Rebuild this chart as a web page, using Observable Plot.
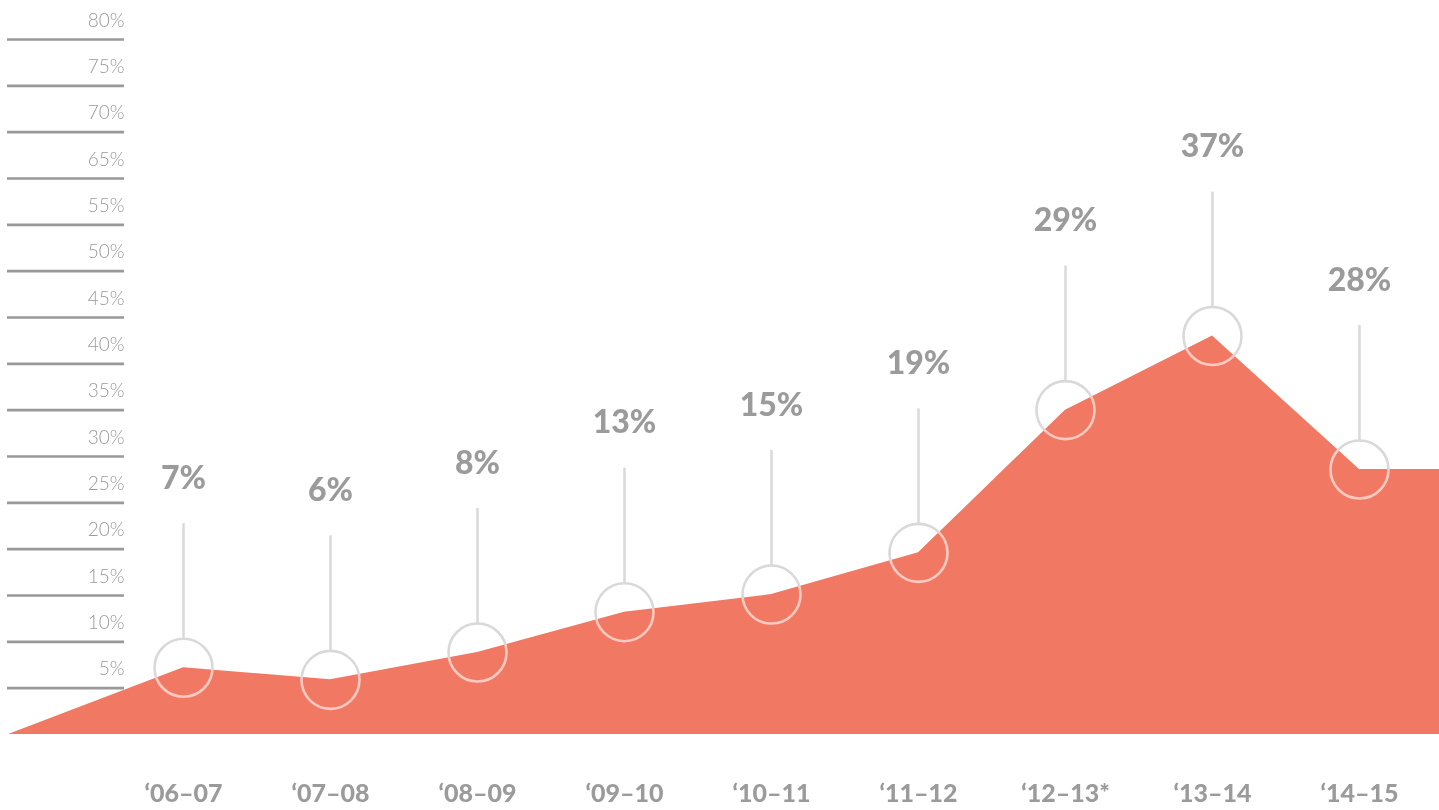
<!DOCTYPE html>
<html>
<head>
<meta charset="utf-8">
<script src="https://cdn.jsdelivr.net/npm/d3@7"></script>
<script src="https://cdn.jsdelivr.net/npm/@observablehq/plot@0.6"></script>
<style>
  html, body { margin: 0; padding: 0; background: #fff; }
  #chart svg { display: block; }
</style>
</head>
<body>
<div id="chart"></div>
<script>
// Categories (school years) and their bottom labels
const periods = ["‘06–07", "‘07–08", "‘08–09", "‘09–10", "‘10–11", "‘11–12", "‘12–13*", "‘13–14", "‘14–15"];
// Value labels shown above each point
const valueLabels = ["7%", "6%", "8%", "13%", "15%", "19%", "29%", "37%", "28%"];
// Area heights as drawn, read against the gridlines
const areaValues = [7.2, 5.9, 8.85, 13.2, 15.1, 19.6, 35.0, 43.0, 28.6];
// Area extends past the first/last category to the chart edges
const areaStartX = -1.19;
const areaEndX = 8.55;
// Gridline values and their (as printed) labels
const gridValues = [5, 10, 15, 20, 25, 30, 35, 40, 45, 50, 55, 60, 65, 70, 75];
const gridLabels = ["5%", "10%", "15%", "20%", "25%", "30%", "35%", "40%", "45%", "50%", "55%", "65%", "70%", "75%", "80%"];

const points = periods.map((p, i) => ({i, period: p, value: areaValues[i], label: valueLabels[i]}));
const areaData = [{i: areaStartX, value: 0}, ...points, {i: areaEndX, value: areaValues[areaValues.length - 1]}];

const W = 1439, H = 810, mTop = 39, mBottom = 76;
const pxPerUnit = (H - mBottom - mTop) / 75;
const circleR = 29;
const stemLen = 115 / pxPerUnit;

const gray = "#9b9b9b";
const font = "Lato, 'Open Sans', sans-serif";

const chart = Plot.plot({
  width: W,
  height: H,
  marginTop: mTop,
  marginBottom: mBottom,
  marginLeft: 0,
  marginRight: 0,
  style: {background: "#fff", fontFamily: font},
  x: {type: "linear", domain: [0, 8], range: [183, 1359], axis: null},
  y: {domain: [0, 75], axis: null},
  marks: [
    Plot.ruleY(gridValues, {y: d => d, stroke: "#999", strokeWidth: 2.6, insetLeft: 7, insetRight: W - 124}),
    Plot.text(gridValues, {y: d => d, text: (d, k) => gridLabels[k], frameAnchor: "left", dx: 124, dy: -19, textAnchor: "end", fill: gray, fontSize: 19, fontWeight: 300}),
    Plot.areaY(areaData, {x: "i", y: "value", fill: "#f17862", curve: "linear"}),
    Plot.ruleX(points, {x: "i", y1: "value", y2: d => d.value + stemLen, dy: -circleR, stroke: "#d9d9d9", strokeWidth: 2.5}),
    Plot.dot(points, {x: "i", y: "value", r: circleR, stroke: "#d9d9d9", strokeWidth: 2.6, fill: "none", mixBlendMode: "luminosity"}),
    Plot.text(points, {x: "i", y: "value", text: "label", dy: -189, lineAnchor: "middle", fill: gray, fontSize: 32, fontWeight: 900}),
    Plot.axisX({ticks: d3.range(periods.length), tickFormat: i => periods[i], tickSize: 0, tickPadding: 50, fill: gray, fontSize: 25, fontWeight: 900, label: null})
  ]
});

document.getElementById("chart").appendChild(chart);
</script>
</body>
</html>
